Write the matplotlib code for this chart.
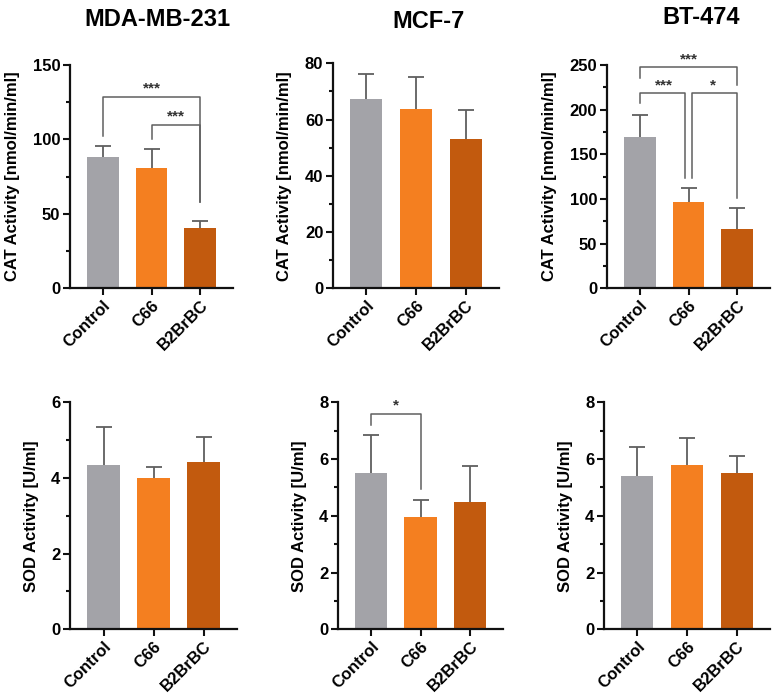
import matplotlib
matplotlib.use("Agg")
import matplotlib.pyplot as plt
from matplotlib.ticker import MultipleLocator

plt.rcParams['font.family'] = ['Liberation Sans', 'DejaVu Sans']
plt.rcParams['font.weight'] = 'bold'

# ---------------- data ----------------
groups = ["Control", "C66", "B2BrBC"]
cell_lines = ["MDA-MB-231", "MCF-7", "BT-474"]

cat_mda_mean = [88.3, 81.0, 40.5]
cat_mda_sd = [7.2, 12.7, 4.5]
cat_mcf_mean = [67.2, 63.6, 53.0]
cat_mcf_sd = [8.9, 11.5, 10.5]
cat_bt_mean = [169.7, 97.0, 66.4]
cat_bt_sd = [24.7, 15.3, 23.2]

sod_mda_mean = [4.33, 3.99, 4.41]
sod_mda_sd = [1.03, 0.29, 0.68]
sod_mcf_mean = [5.52, 3.97, 4.48]
sod_mcf_sd = [1.34, 0.59, 1.28]
sod_bt_mean = [5.41, 5.79, 5.50]
sod_bt_sd = [1.00, 0.96, 0.62]

cat_ylabel = "CAT Activity [nmol/min/ml]"
sod_ylabel = "SOD Activity [U/ml]"

# significance brackets: (i, j, y_bar, y_leg_left, y_leg_right, label, x_offset_left, x_offset_right)
sig_cat_mda = [(0, 2, 128.3, 102.0, 58.0, "***", 0.0, 0.0),
               (1, 2, 109.6, 100.0, 58.0, "***", 0.0, 0.0)]
sig_cat_mcf = []
sig_cat_bt = [(0, 2, 247.4, 235.0, 227.6, "***", 0.0, 0.0),
              (0, 1, 218.3, 207.0, 123.0, "***", 0.0, -0.07),
              (1, 2, 218.3, 123.0, 100.8, "*", 0.07, 0.0)]
sig_sod_mda = []
sig_sod_mcf = [(0, 1, 7.59, 7.2, 4.93, "*", 0.0, 0.0)]
sig_sod_bt = []

colors = ["#A3A3A8", "#F47F20", "#C25A0E"]
err_color = "#5f5f5f"

panels = [
    ((70, 65, 233, 288.3), cat_mda_mean, cat_mda_sd, 150, 50, 25, cat_ylabel, sig_cat_mda),
    ((333, 63.3, 499, 288.3), cat_mcf_mean, cat_mcf_sd, 80, 20, 10, cat_ylabel, sig_cat_mcf),
    ((607, 65, 770, 288.3), cat_bt_mean, cat_bt_sd, 250, 50, 25, cat_ylabel, sig_cat_bt),
    ((70, 402.3, 237, 629.3), sod_mda_mean, sod_mda_sd, 6, 2, 1, sod_ylabel, sig_sod_mda),
    ((338, 402.3, 503, 629.3), sod_mcf_mean, sod_mcf_sd, 8, 2, 1, sod_ylabel, sig_sod_mcf),
    ((604, 402.3, 770, 629.3), sod_bt_mean, sod_bt_sd, 8, 2, 1, sod_ylabel, sig_sod_bt),
]

W, H = 774, 700
fig = plt.figure(figsize=(W / 100, H / 100), dpi=100)

for (l, t, r, b), mean, sd, ymax, major, minor, ylabel, sig in panels:
    ax = fig.add_axes([l / W, 1 - b / H, (r - l) / W, (b - t) / H])
    x = list(range(len(groups)))
    ax.bar(x, mean, width=0.65, color=colors, zorder=2)
    ax.errorbar(x, mean, yerr=sd, fmt='none', ecolor=err_color,
                elinewidth=1.3, capsize=6, capthick=1.3, zorder=1)
    ax.set_xlim(-0.67, 2.67)
    ax.set_ylim(0, ymax)
    ax.yaxis.set_major_locator(MultipleLocator(major))
    ax.yaxis.set_minor_locator(MultipleLocator(minor))
    ax.set_xticks(x)
    ax.set_xticklabels(groups, rotation=45, ha='right', rotation_mode='anchor',
                       fontsize=12, fontweight='bold')
    for lab in ax.get_yticklabels():
        lab.set_fontsize(12)
        lab.set_fontweight('bold')
    ax.set_ylabel(ylabel, fontsize=12, fontweight='bold', labelpad=9)
    for s in ['top', 'right']:
        ax.spines[s].set_visible(False)
    for s in ['left', 'bottom']:
        ax.spines[s].set_linewidth(1.6)
        ax.spines[s].set_color('#111111')
    ax.tick_params(axis='both', which='major', length=5, width=1.5, color='#111111', pad=2)
    ax.tick_params(axis='y', which='minor', length=3, width=1.5, color='#111111')
    ax.tick_params(axis='x', which='minor', length=0)
    for i, j, yb, yl, yr, lab, ol, orr in sig:
        xl, xr = i + ol, j + orr
        ax.plot([xl, xl, xr, xr], [yl, yb, yb, yr], color=err_color, lw=1.1,
                clip_on=False, zorder=3)
        ax.text((i + j) / 2, yb + ymax * 0.006, lab, ha='center', va='bottom',
                fontsize=11, fontweight='bold', color='#333333')

title_pos = [(157, 20), (429, 22), (701, 18)]
for name, (tx, ty) in zip(cell_lines, title_pos):
    fig.text(tx / W, 1 - ty / H, name, ha='center', va='center', fontsize=17,
             fontweight='bold', family=['Liberation Sans Narrow', 'Liberation Sans'])

fig.savefig("out.png", dpi=100)
